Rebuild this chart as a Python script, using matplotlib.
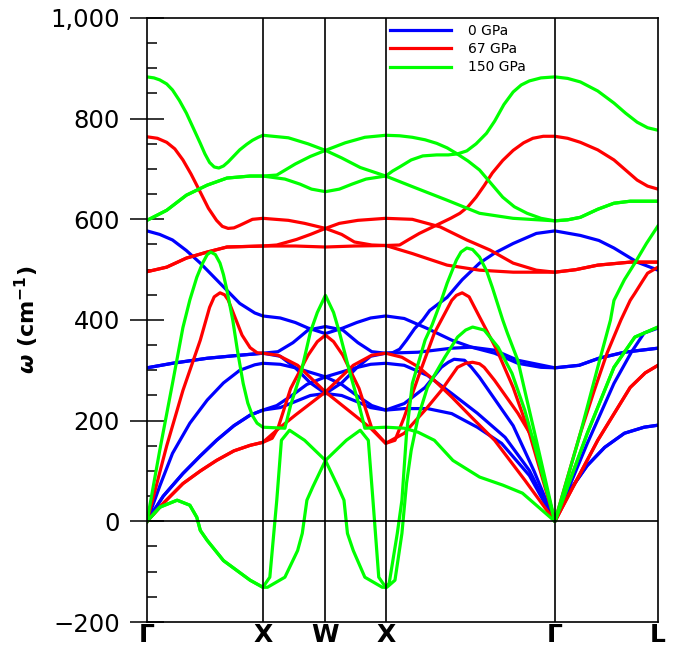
import matplotlib
matplotlib.use('Agg')
import matplotlib.pyplot as plt
from matplotlib.ticker import MultipleLocator, FuncFormatter

# high-symmetry points along the path (Γ-X length = 100)
sym_k = [0, 100, 154, 206, 352, 441]
sym_labels = ['Γ', 'X', 'W', 'X', 'Γ', 'L']

pressures = ['0 GPa', '67 GPa', '150 GPa']
colors = ['#0000ff', '#ff0000', '#00ff00']

# phonon branches as (k, frequency in cm-1)
# 0 GPa
p0_1 = [(0, 577), (11, 570), (22, 559), (34, 538), (46, 513), (63, 473), (80, 433), (93, 414), (100, 408),
        (115, 404), (128, 395), (139, 384), (154, 373), (169, 384), (181, 395), (193, 404), (206, 408),
        (222, 403), (242, 383), (263, 360), (280, 346), (300, 334), (320, 314), (340, 306), (352, 305),
        (373, 310), (390, 324), (412, 336), (441, 344)]
p0_2 = [(0, 305), (22, 314), (52, 324), (80, 330), (100, 334),
        (113, 337), (126, 355), (139, 380), (154, 387), (169, 380), (182, 355), (194, 337), (206, 334),
        (212, 335), (218, 342), (224, 360), (231, 383), (238, 400), (244, 419), (252, 433), (259, 445),
        (272, 480), (287, 513), (300, 533), (316, 552), (336, 572), (352, 577),
        (374, 568), (390, 558), (403, 543), (423, 515), (441, 499)]
p0_3 = [(0, 305), (22, 314), (52, 324), (80, 330), (100, 334),
        (115, 328), (128, 305), (141, 275), (154, 254), (168, 275), (181, 305), (193, 328), (206, 334),
        (234, 336), (263, 344), (280, 346), (300, 340), (320, 320), (352, 305),
        (373, 310), (390, 324), (412, 336), (441, 344)]
p0_4 = [(0, 0), (11, 70), (22, 135), (37, 195), (52, 241), (66, 275), (80, 300), (93, 311), (100, 314),
        (115, 312), (128, 305), (141, 296), (154, 287), (168, 272), (181, 250), (194, 230), (206, 221),
        (222, 224), (242, 224), (263, 214), (285, 187), (306, 155), (330, 91), (352, 0),
        (380, 155), (403, 274), (418, 336), (429, 374), (441, 384)]
p0_5 = [(0, 0), (14, 50), (31, 95), (46, 130), (60, 161), (75, 190), (89, 211), (100, 221),
        (112, 230), (125, 250), (138, 272), (154, 287), (167, 296), (180, 305), (193, 312), (206, 314),
        (222, 310), (242, 290), (263, 254), (285, 215), (309, 167), (330, 101), (352, 0),
        (365, 62), (380, 111), (395, 147), (412, 175), (429, 187), (441, 191)]
p0_6 = [(0, 0), (14, 50), (31, 95), (46, 130), (60, 161), (75, 190), (89, 211), (100, 221),
        (115, 226), (128, 238), (141, 250), (154, 254), (168, 250), (181, 238), (193, 226), (206, 221),
        (222, 234), (240, 266), (254, 306), (260, 316), (265, 322), (274, 320), (280, 306), (287, 286),
        (316, 190), (334, 100), (352, 0),
        (365, 62), (380, 111), (395, 147), (412, 175), (429, 187), (441, 191)]

# 67 GPa
p67_1 = [(0, 764), (9, 761), (17, 753), (24, 740), (31, 718), (38, 690), (46, 654), (53, 622), (60, 598),
         (65, 586), (70, 582), (75, 583), (80, 588), (91, 600), (100, 602),
         (122, 598), (136, 592), (154, 582), (168, 570), (179, 555), (194, 549), (206, 548),
         (218, 549), (226, 560), (235, 572), (253, 592), (262, 602), (270, 612), (277, 625), (284, 644),
         (291, 667), (298, 692), (307, 717), (316, 737), (325, 752), (333, 761), (342, 765), (352, 765),
         (363, 761), (374, 753), (389, 738), (403, 718), (413, 698), (423, 678), (432, 666), (441, 660)]
p67_2 = [(0, 496), (17, 505), (34, 523), (52, 535), (69, 545), (100, 547),
         (112, 549), (129, 560), (141, 570), (154, 582), (166, 592), (182, 598), (206, 602),
         (229, 600), (253, 585), (276, 559), (296, 539), (316, 513), (336, 499), (352, 495),
         (370, 500), (389, 509), (417, 515), (441, 515)]
p67_3 = [(0, 496), (17, 505), (34, 523), (52, 535), (69, 545), (100, 547),
         (128, 547), (154, 545), (179, 547), (206, 548),
         (229, 532), (259, 509), (287, 499), (316, 495), (352, 495),
         (370, 500), (389, 509), (417, 515), (441, 515)]
p67_4 = [(0, 0), (17, 150), (31, 260), (46, 360), (54, 425), (58, 446), (63, 454), (67, 450), (70, 440),
         (76, 405), (82, 370), (89, 345), (95, 335), (100, 334),
         (113, 330), (130, 310), (154, 257), (179, 211), (193, 185), (206, 155),
         (222, 175), (240, 221), (254, 260), (268, 306), (275, 314), (281, 316), (287, 313), (291, 306),
         (300, 280), (320, 215), (334, 161), (352, 0),
         (374, 175), (386, 260), (397, 334), (409, 400), (417, 439), (421, 453), (427, 475), (432, 493),
         (441, 505)]
p67_5 = [(0, 0), (15, 38), (31, 75), (46, 100), (60, 121), (75, 140), (89, 151), (100, 157),
         (114, 185), (128, 211), (154, 257), (178, 310), (194, 330), (206, 334),
         (220, 326), (234, 307), (248, 280), (263, 247), (280, 207), (300, 161), (326, 82), (352, 0),
         (389, 161), (417, 266), (430, 295), (441, 310)]
p67_6 = [(0, 0), (15, 38), (31, 75), (46, 100), (60, 121), (75, 140), (89, 151), (100, 157),
         (108, 165), (113, 185), (124, 264), (139, 330), (147, 357), (154, 370), (161, 357), (169, 330),
         (183, 264), (194, 185), (206, 155),
         (214, 161), (222, 207), (234, 286), (248, 374), (263, 439), (267, 449), (272, 454), (278, 446),
         (287, 406), (302, 340), (316, 266), (330, 175), (352, 0),
         (389, 161), (417, 266), (430, 295), (441, 310)]

# 150 GPa
p150_1 = [(0, 883), (6, 881), (11, 877), (17, 869), (22, 857), (28, 836), (34, 811), (40, 781), (46, 751),
          (50, 730), (54, 713), (58, 704), (62, 702), (66, 706), (70, 714), (75, 726), (80, 738), (86, 749),
          (91, 757), (96, 763), (100, 767),
          (122, 762), (139, 750), (154, 737), (168, 722), (184, 703), (206, 686),
          (212, 696), (218, 704), (228, 718), (238, 726), (250, 728), (260, 728), (268, 730), (276, 736),
          (284, 750), (293, 771), (300, 795), (308, 828), (316, 853), (323, 867), (330, 875), (340, 881),
          (352, 883),
          (363, 880), (374, 873), (389, 855), (403, 831), (413, 811), (423, 793), (432, 782), (441, 777)]
p150_2 = [(0, 598), (17, 618), (34, 648), (52, 668), (69, 682), (89, 686), (100, 686),
          (112, 688), (128, 710), (141, 725), (154, 737), (171, 752), (188, 763), (206, 767),
          (218, 766), (229, 763), (240, 758), (250, 751), (259, 742), (267, 731), (277, 716), (287, 698),
          (297, 671), (307, 644), (317, 625), (328, 612), (340, 602), (352, 597),
          (363, 599), (374, 604), (389, 620), (403, 632), (417, 636), (441, 636)]
p150_3 = [(0, 598), (17, 618), (34, 648), (52, 668), (69, 682), (89, 686), (100, 686),
          (119, 680), (132, 670), (142, 660), (154, 655), (166, 660), (177, 670), (189, 680), (206, 686),
          (229, 665), (259, 638), (287, 612), (316, 602), (352, 597),
          (363, 599), (374, 604), (389, 620), (403, 632), (417, 636), (441, 636)]
p150_4 = [(0, 0), (11, 141), (22, 274), (31, 385), (37, 440), (43, 485), (48, 513), (52, 530), (55, 535),
          (59, 530), (63, 513), (66, 490), (69, 459), (74, 400), (78, 340), (83, 274), (87, 235), (91, 210),
          (95, 195), (100, 187),
          (119, 185), (124, 231), (133, 296), (141, 376), (147, 415), (154, 449), (161, 415), (166, 376),
          (175, 296), (183, 231), (188, 185), (206, 187),
          (222, 185), (234, 177), (248, 161), (264, 121), (287, 88), (307, 72), (324, 56), (352, 0),
          (374, 175), (389, 306), (400, 400), (403, 439), (412, 480), (421, 513), (431, 552), (441, 587)]
p150_5 = [(0, 0), (11, 28), (26, 42), (37, 32), (43, 8), (46, -18), (52, -38), (66, -78), (89, -117),
          (100, -131),
          (106, -111), (112, 42), (116, 161), (123, 181), (136, 161), (154, 121), (165, 68), (170, 42),
          (173, -24), (178, -58), (188, -111), (203, -131), (206, -131),
          (209, -123), (216, -24), (220, 42), (224, 175), (229, 274), (240, 360), (246, 390), (254, 439),
          (259, 473), (267, 519), (271, 535), (276, 543), (281, 540), (287, 525), (293, 498), (298, 465),
          (307, 400), (311, 374), (320, 320), (328, 240), (336, 161), (352, 0),
          (380, 175), (403, 306), (421, 366), (441, 386)]
p150_6 = [(0, 0), (11, 28), (26, 42), (37, 32), (43, 8), (46, -18), (52, -38), (66, -78), (89, -117),
          (100, -131),
          (104, -131), (119, -111), (130, -58), (134, -24), (138, 42), (143, 68), (154, 121), (172, 161),
          (184, 181), (191, 161), (195, 42), (200, -111), (206, -131),
          (207, -131), (214, -117), (220, -24), (224, 76), (228, 141), (234, 207), (242, 266), (257, 326),
          (268, 366), (275, 380), (281, 386), (291, 380), (303, 346), (315, 294), (326, 221), (334, 155),
          (352, 0),
          (380, 175), (403, 306), (421, 366), (441, 386)]

bands = [
    [p0_1, p0_2, p0_3, p0_4, p0_5, p0_6],
    [p67_1, p67_2, p67_3, p67_4, p67_5, p67_6],
    [p150_1, p150_2, p150_3, p150_4, p150_5, p150_6],
]

fig = plt.figure(figsize=(6.84, 6.52), dpi=100)
ax = fig.add_axes([147 / 684, 30 / 652, 511 / 684, 604 / 652])

for label, color, branches in zip(pressures, colors, bands):
    for i, br in enumerate(branches):
        k = [p[0] for p in br]
        w = [p[1] for p in br]
        ax.plot(k, w, color=color, lw=2.3, solid_joinstyle='round',
                label=label if i == 0 else None, zorder=2)

# high-symmetry lines and zero line
for k in sym_k[1:-1]:
    ax.axvline(k, color='black', lw=1.2, zorder=3)
ax.axhline(0, color='black', lw=1.2, zorder=3)

ax.set_xlim(sym_k[0], sym_k[-1])
ax.set_ylim(-200, 1000)

ax.set_xticks(sym_k)
ax.set_xticklabels(sym_labels, fontsize=18, fontweight='bold')
ax.tick_params(axis='x', length=0, pad=1)

ax.yaxis.set_major_locator(MultipleLocator(200))
ax.yaxis.set_minor_locator(MultipleLocator(50))
ax.yaxis.set_major_formatter(FuncFormatter(lambda v, p: f'{v:,.0f}'.replace('-', '\u2212')))
ax.tick_params(axis='y', which='major', direction='inout', length=25, width=1.1,
               labelsize=17.5, pad=7)
ax.tick_params(axis='y', which='minor', direction='in', length=7, width=1.1)

for s in ax.spines.values():
    s.set_linewidth(1.2)

ax.set_ylabel(r'$\boldsymbol{\omega}$ (cm$^{\mathbf{-1}}$)', fontsize=16, fontweight='bold', labelpad=7)

ax.legend(loc='upper left', bbox_to_anchor=(0.475, 0.99), frameon=False, fontsize=10,
          handlelength=4.4, handletextpad=1.2, labelspacing=0.3, borderpad=0, borderaxespad=0)

fig.savefig('out.png', dpi=100)
